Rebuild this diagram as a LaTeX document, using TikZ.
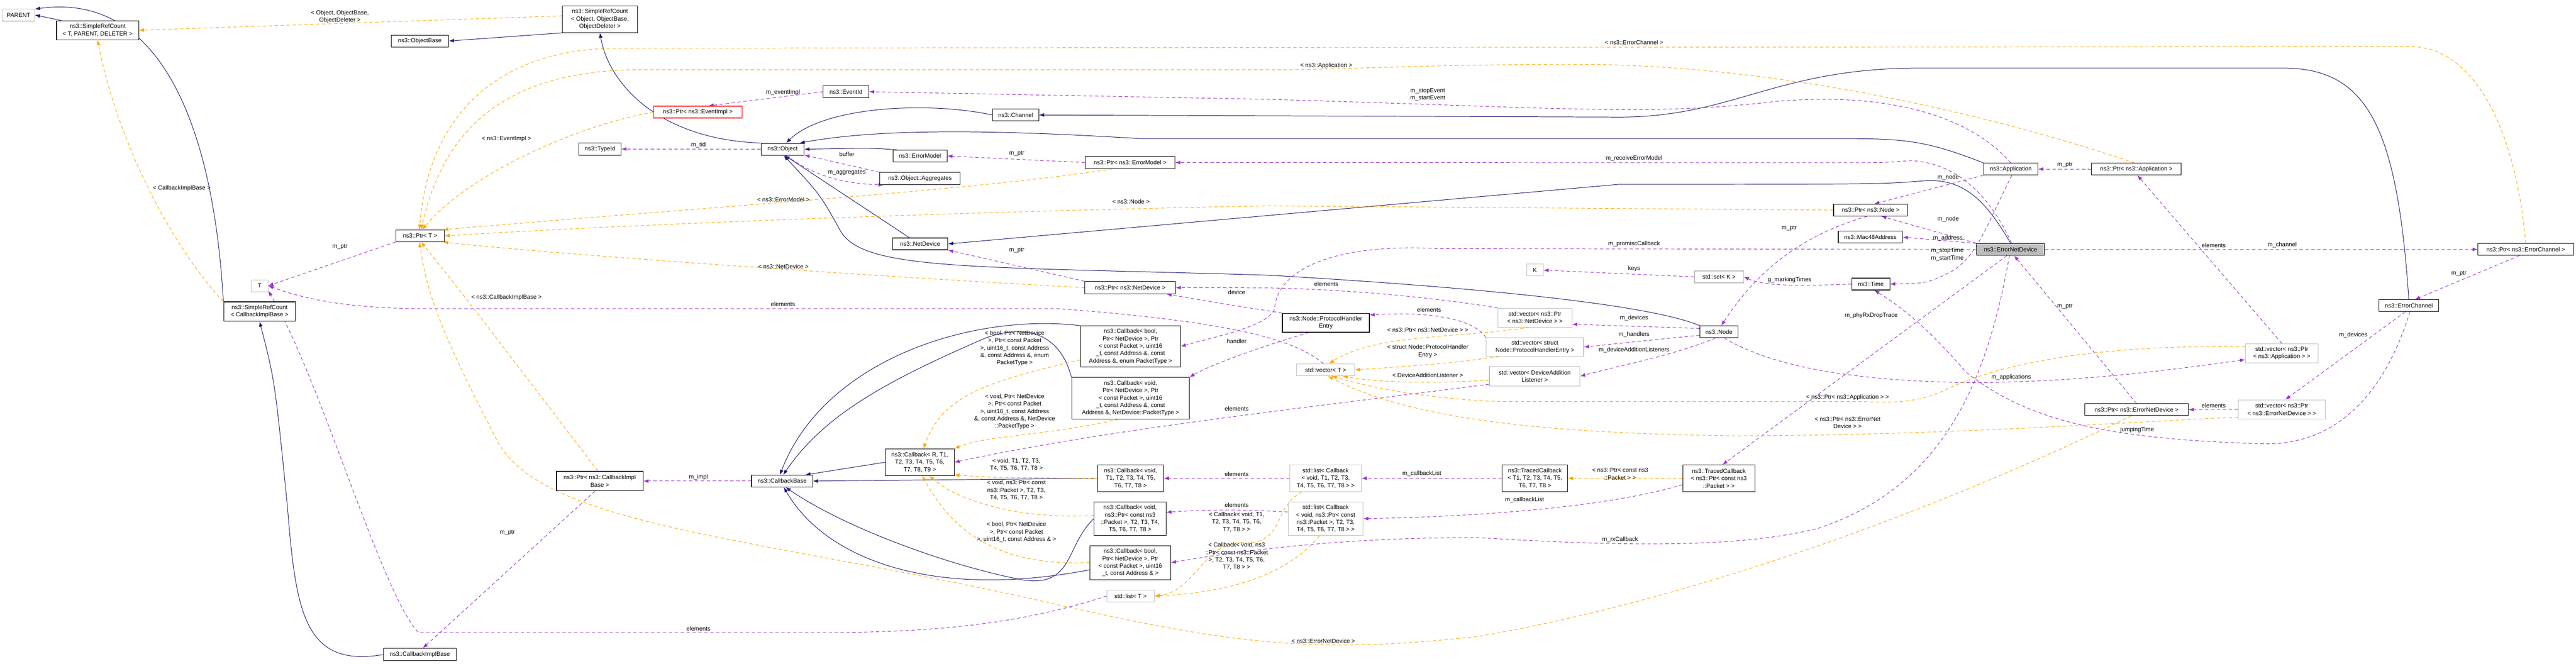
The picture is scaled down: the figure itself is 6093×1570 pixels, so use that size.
\documentclass[tikz,border=0pt]{standalone}
\usepackage{fontspec}
\setmainfont{Liberation Sans}
\usetikzlibrary{arrows.meta}
\pgfdeclarelayer{background}
\pgfsetlayers{background,main}
\definecolor{inhc}{HTML}{191970}
\definecolor{usec}{HTML}{9A32CD}
\definecolor{tplc}{HTML}{FFA500}
\tikzset{
  box/.style={draw=black,line width=0.7pt,fill=white,inner sep=0pt,align=center,font=\fontsize{7}{8.75}\selectfont},
  gbox/.style={box,draw=black!25},
  lbl/.style={inner sep=0pt,align=center,font=\fontsize{7}{8.75}\selectfont},
  tip/.style={-{Latex[length=6pt,width=4.5pt]}},
  inh/.style={tip,draw=inhc,line width=0.6pt},
  use/.style={tip,draw=usec,line width=0.6pt,dash pattern=on 4pt off 3pt},
  tpl/.style={tip,draw=tplc,line width=0.6pt,dash pattern=on 4pt off 3pt},
}
\newcommand\bx[7][]{\node[box,#1,minimum width={(#5-#3)*0.5pt},minimum height={(#6-#4)*0.5pt}] (#2) at ({(#3+#5)/2},{(#4+#6)/2}) {#7};}
\begin{document}
\begin{tikzpicture}[x=0.5pt,y=-0.5pt]
\useasboundingbox (0,0) rectangle (6093,1570);
% nodes
\bx[gbox]{PARENT}{6}{21}{82}{50}{PARENT}
\bx{srcTPD}{134}{49}{328}{94}{ns3::SimpleRefCount\\< T, PARENT, DELETER >}
\bx{srcObj}{1330}{14}{1508}{77}{ns3::SimpleRefCount\\< Object, ObjectBase,\\ObjectDeleter >}
\bx{objBase}{925}{83}{1061}{111}{ns3::ObjectBase}
\bx{typeId}{1369}{338}{1469}{367}{ns3::TypeId}
\bx{ptrT}{936}{544}{1051}{572}{ns3::Ptr< T >}
\bx[gbox]{T}{594}{662}{634}{690}{T}
\bx{srcCIB}{529}{714}{699}{760}{ns3::SimpleRefCount\\< CallbackImplBase >}
\bx{ptrCIB}{1316}{1115}{1521}{1161}{ns3::Ptr< ns3::CallbackImpl\\Base >}
\bx{cib}{907}{1534}{1079}{1563}{ns3::CallbackImplBase}
\bx{eventId}{1947}{203}{2055}{231}{ns3::EventId}
\bx[draw=red]{ptrEventImpl}{1546}{251}{1755}{279}{ns3::Ptr< ns3::EventImpl >}
\bx{channel}{2348}{258}{2457}{286}{ns3::Channel}
\bx{object}{1800}{339}{1902}{367}{ns3::Object}
\bx{errorModel}{2112}{355}{2240}{383}{ns3::ErrorModel}
\bx{ptrErrorModel}{2567}{370}{2779}{399}{ns3::Ptr< ns3::ErrorModel >}
\bx{aggregates}{2081}{408}{2271}{437}{ns3::Object::Aggregates}
\bx{netDevice}{2111}{563}{2242}{591}{ns3::NetDevice}
\bx{ptrNetDevice}{2566}{666}{2780}{695}{ns3::Ptr< ns3::NetDevice >}
\bx{cbBoolPT}{2556}{771}{2792}{868}{ns3::Callback< bool,\\Ptr< NetDevice >, Ptr\\< const Packet >, uint16\\\_t, const Address \&, const\\Address \&, enum PacketType >}
\bx{cbVoidPT}{2535}{893}{2813}{991}{ns3::Callback< void,\\Ptr< NetDevice >, Ptr\\< const Packet >, uint16\\\_t, const Address \&, const\\Address \&, NetDevice::PacketType >}
\bx{cbR}{2094}{1062}{2257}{1125}{ns3::Callback< R, T1,\\T2, T3, T4, T5, T6,\\T7, T8, T9 >}
\bx{cbBase}{1778}{1124}{1922}{1152}{ns3::CallbackBase}
\bx{cbVoidT}{2596}{1100}{2752}{1163}{ns3::Callback< void,\\T1, T2, T3, T4, T5,\\T6, T7, T8 >}
\bx{cbVoidPkt}{2588}{1187}{2758}{1267}{ns3::Callback< void,\\ns3::Ptr< const ns3\\::Packet >, T2, T3, T4,\\T5, T6, T7, T8 >}
\bx{cbBoolAddr}{2578}{1291}{2769}{1371}{ns3::Callback< bool,\\Ptr< NetDevice >, Ptr\\< const Packet >, uint16\\\_t, const Address \& >}
\bx[gbox]{listT}{2618}{1396}{2730}{1424}{std::list< T >}
\bx{ptrNode}{4337}{483}{4512}{511}{ns3::Ptr< ns3::Node >}
\bx{mac}{4348}{547}{4500}{575}{ns3::Mac48Address}
\bx[gbox]{K}{3611}{625}{3650}{653}{K}
\bx[gbox]{setK}{4008}{641}{4124}{669}{std::set< K >}
\bx{time}{4380}{658}{4470}{686}{ns3::Time}
\bx{phe}{3033}{741}{3239}{786}{ns3::Node::ProtocolHandler\\Entry}
\bx[gbox]{vecNetDev}{3543}{729}{3718}{774}{std::vector< ns3::Ptr\\< ns3::NetDevice > >}
\bx{node}{4021}{771}{4111}{799}{ns3::Node}
\bx[gbox]{vecPHE}{3515}{799}{3746}{843}{std::vector< struct\\Node::ProtocolHandlerEntry >}
\bx[gbox]{vecT}{3067}{861}{3204}{889}{std::vector< T >}
\bx[gbox]{vecDAL}{3523}{867}{3737}{913}{std::vector< DeviceAddition\\Listener >}
\bx[gbox]{listCbT}{3051}{1100}{3220}{1163}{std::list< Callback\\< void, T1, T2, T3,\\T4, T5, T6, T7, T8 > >}
\bx{tcT}{3553}{1100}{3708}{1163}{ns3::TracedCallback\\< T1, T2, T3, T4, T5,\\T6, T7, T8 >}
\bx{tcPkt}{3980}{1100}{4151}{1163}{ns3::TracedCallback\\< ns3::Ptr< const ns3\\::Packet > >}
\bx[gbox]{listCbPkt}{3047}{1187}{3224}{1267}{std::list< Callback\\< void, ns3::Ptr< const\\ns3::Packet >, T2, T3,\\T4, T5, T6, T7, T8 > >}
\bx{app}{4692}{386}{4820}{414}{ns3::Application}
\bx{ptrApp}{4947}{386}{5159}{414}{ns3::Ptr< ns3::Application >}
\bx[fill=black!25]{end}{4675}{576}{4836}{604}{ns3::ErrorNetDevice}
\bx{ptrEC}{5861}{576}{6087}{604}{ns3::Ptr< ns3::ErrorChannel >}
\bx{ec}{5627}{709}{5768}{737}{ns3::ErrorChannel}
\bx[gbox]{vecApp}{5311}{813}{5483}{858}{std::vector< ns3::Ptr\\< ns3::Application > >}
\bx{ptrEND}{4931}{955}{5176}{983}{ns3::Ptr< ns3::ErrorNetDevice >}
\bx[gbox]{vecEND}{5294}{946}{5500}{991}{std::vector< ns3::Ptr\\< ns3::ErrorNetDevice > >}
% labels
\node[lbl] (L1) at (804,40) {< Object, ObjectBase,\\ObjectDeleter >};
\node[lbl] (L2) at (430,445) {< CallbackImplBase >};
\node[lbl] (L3) at (1198,329) {< ns3::EventImpl >};
\node[lbl] (L4) at (804,584) {m\_ptr};
\node[lbl] (L5) at (1198,704) {< ns3::CallbackImplBase >};
\node[lbl] (L6) at (1200,1260) {m\_ptr};
\node[lbl] (L7) at (1852,219) {m\_eventImpl};
\node[lbl] (L8) at (1652,343) {m\_tid};
\node[lbl] (L9) at (2003,365) {buffer};
\node[lbl] (L10) at (2003,408) {m\_aggregates};
\node[lbl] (L11) at (2405,363) {m\_ptr};
\node[lbl] (L12) at (1853,472) {< ns3::ErrorModel >};
\node[lbl] (L13) at (2675,477) {< ns3::Node >};
\node[lbl] (L14) at (2405,592) {m\_ptr};
\node[lbl] (L15) at (1853,631) {< ns3::NetDevice >};
\node[lbl] (L16) at (1852,720) {elements};
\node[lbl] (L17) at (2925,692) {device};
\node[lbl] (L18) at (2400,824) {< bool, Ptr< NetDevice\\>, Ptr< const Packet\\>, uint16\_t, const Address\\\&, const Address \&, enum\\PacketType >};
\node[lbl] (L19) at (2925,807) {handler};
\node[lbl] (L20) at (2400,974) {< void, Ptr< NetDevice\\>, Ptr< const Packet\\>, uint16\_t, const Address\\\&, const Address \&, NetDevice\\::PacketType >};
\node[lbl] (L21) at (2925,967) {elements};
\node[lbl] (L22) at (2404,1099) {< void, T1, T2, T3,\\T4, T5, T6, T7, T8 >};
\node[lbl] (L23) at (2404,1160) {< void, ns3::Ptr< const\\ns3::Packet >, T2, T3,\\T4, T5, T6, T7, T8 >};
\node[lbl] (L24) at (2404,1259) {< bool, Ptr< NetDevice\\>, Ptr< const Packet\\>, uint16\_t, const Address \& >};
\node[lbl] (L25) at (1652,1129) {m\_impl};
\node[lbl] (L26) at (2925,1121) {elements};
\node[lbl] (L27) at (2925,1195) {elements};
\node[lbl] (L28) at (1652,1487) {elements};
\node[lbl] (L29) at (2925,1235) {< Callback< void, T1,\\T2, T3, T4, T5, T6,\\T7, T8 > >};
\node[lbl] (L30) at (2925,1316) {< Callback< void, ns3\\::Ptr< const ns3::Packet\\>, T2, T3, T4, T5, T6,\\T7, T8 > >};
\node[lbl] (L31) at (3865,100) {< ns3::ErrorChannel >};
\node[lbl] (L32) at (3137,155) {< ns3::Application >};
\node[lbl] (L33) at (3377,224) {m\_stopEvent\\m\_startEvent};
\node[lbl] (L34) at (3865,375) {m\_receiveErrorModel};
\node[lbl] (L35) at (4232,540) {m\_ptr};
\node[lbl] (L36) at (3865,577) {m\_promiscCallback};
\node[lbl] (L37) at (3865,635) {keys};
\node[lbl] (L38) at (4233,662) {g\_markingTimes};
\node[lbl] (L39) at (3137,672) {elements};
\node[lbl] (L40) at (3380,733) {elements};
\node[lbl] (L41) at (3865,753) {m\_devices};
\node[lbl] (L42) at (4426,747) {m\_phyRxDropTrace};
\node[lbl] (L43) at (3377,780) {< ns3::Ptr< ns3::NetDevice > >};
\node[lbl] (L44) at (3865,791) {m\_handlers};
\node[lbl] (L45) at (3377,831) {< struct Node::ProtocolHandler\\Entry >};
\node[lbl] (L46) at (3865,828) {m\_deviceAdditionListeners};
\node[lbl] (L47) at (3377,888) {< DeviceAdditionListener >};
\node[lbl] (L48) at (4370,940) {< ns3::Ptr< ns3::Application > >};
\node[lbl] (L49) at (4370,1000) {< ns3::Ptr< ns3::ErrorNet\\Device > >};
\node[lbl] (L50) at (3832,1121) {< ns3::Ptr< const ns3\\::Packet > >};
\node[lbl] (L51) at (3363,1121) {m\_callbackList};
\node[lbl] (L52) at (3606,1183) {m\_callbackList};
\node[lbl] (L53) at (3832,1277) {m\_rxCallback};
\node[lbl] (L54) at (3130,1517) {< ns3::ErrorNetDevice >};
\node[lbl] (L55) at (4608,420) {m\_node};
\node[lbl] (L56) at (4608,519) {m\_node};
\node[lbl] (L57) at (4607,564) {m\_address};
\node[lbl] (L58) at (4606,602) {m\_stopTime\\m\_startTime};
\node[lbl] (L59) at (4884,390) {m\_ptr};
\node[lbl] (L60) at (4884,725) {m\_ptr};
\node[lbl] (L61) at (5236,581) {elements};
\node[lbl] (L62) at (5398,580) {m\_channel};
\node[lbl] (L63) at (5816,647) {m\_ptr};
\node[lbl] (L64) at (5566,793) {m\_devices};
\node[lbl] (L65) at (4757,893) {m\_applications};
\node[lbl] (L66) at (5236,959) {elements};
\node[lbl] (L67) at (5055,1017) {jumpingTime};
\begin{pgfonlayer}{background}
% inheritance
\draw[inh] (srcTPD.165) -- (PARENT.east);
\draw[inh] (srcCIB.north west) .. controls (505,300) and (380,-20) .. (PARENT.20);
\draw[inh] (srcObj.200) -- (objBase.east);
\draw[inh] (object.north west) .. controls (1560,330) and (1440,200) .. (srcObj.south);
\draw[inh] (channel.west) .. controls (2200,240) and (1950,250) .. (object.60);
\draw[inh] (errorModel.165) .. controls (2060,350) .. (object.east);
\draw[inh] (netDevice.150) -- (object.-70);
\draw[inh] (app.north west) .. controls (4550,330) and (4500,328) .. (4350,328) -- (2700,328) .. controls (2400,310) and (2100,300) .. (object.20);
\draw[inh] (node.north west) .. controls (3900,720) and (3500,680) .. (3000,651) .. controls (2300,630) and (2050,640) .. (1990,550) .. controls (1940,460) .. (object.-80);
\draw[inh] (end.north) .. controls (4700,480) and (4650,425) .. (4560,427) .. controls (4450,436) .. (3830,436) -- (netDevice.east);
\draw[inh] (ec.north) .. controls (5670,300) and (5600,161) .. (5400,161) -- (4540,161) .. controls (4200,161) and (4100,277) .. (3830,277) -- (channel.east);
\draw[inh] (cib.west) .. controls (720,1580) and (700,1450) .. (680,1200) .. controls (650,900) .. (srcCIB.south);
\draw[inh] (cbR.west) -- (cbBase.15);
\draw[inh] (cbVoidT.west) -- (cbBase.east);
\draw[inh] (cbVoidPkt.west) .. controls (2520,1290) and (2540,1390) .. (2420,1372) .. controls (2250,1340) and (2000,1250) .. (cbBase.-60);
\draw[inh] (cbBoolAddr.-170) .. controls (2200,1420) and (1950,1320) .. (cbBase.-75);
\draw[inh] (cbBoolPT.north west) .. controls (2300,740) and (1950,850) .. (cbBase.110);
\draw[inh] (cbVoidPT.north west) .. controls (2510,800) and (2440,760) .. (2330,800) .. controls (2100,900) and (1950,980) .. (cbBase.80);
% usage
\draw[use] (ptrT.south west) -- (T.east);
\draw[use] (ptrCIB.-115) -- (cib.65);
\draw[use] (cbBase.west) -- (ptrCIB.east);
\draw[use] (listT.west) .. controls (2400,1480) and (2200,1497) .. (1900,1497) -- (990,1497) .. controls (900,1400) and (760,900) .. (T.-30);
\draw[use] (vecT.110) .. controls (3060,800) and (2900,760) .. (2500,730) -- (1000,730) .. controls (800,730) and (700,700) .. (T.east);
\draw[use] (setK.west) -- (K.east);
\draw[use] (time.west) .. controls (4230,678) and (4170,675) .. (setK.east);
\draw[use] (ptrNode.-120) .. controls (4250,560) and (4150,650) .. (node.70);
\draw[use] (app.south west) -- (ptrNode.60);
\draw[use] (end.north west) -- (ptrNode.-30);
\draw[use] (end.170) -- (mac.east);
\draw[use] (app.-80) .. controls (4700,530) and (4680,600) .. (4620,640) .. controls (4560,670) .. (time.east);
\draw[use] (app.north) .. controls (4700,320) and (4550,210) .. (4200,240) .. controls (3900,275) and (3700,255) .. (3000,235) -- (eventId.east);
\draw[use] (eventId.west) -- (ptrEventImpl.30);
\draw[use] (object.west) -- (typeId.east);
\draw[use] (object.-60) .. controls (1930,420) and (2000,434) .. (aggregates.190);
\draw[use] (aggregates.north west) -- (object.-15);
\draw[use] (ptrErrorModel.west) -- (errorModel.east);
\draw[use] (end.80) .. controls (4700,450) and (4620,385) .. (4520,380) .. controls (4450,385) .. (4350,385) -- (ptrErrorModel.east);
\draw[use] (ptrNetDevice.north west) -- (netDevice.south east);
\draw[use] (phe.north west) .. controls (2900,720) .. (ptrNetDevice.-10);
\draw[use] (phe.-150) .. controls (2950,830) and (2850,870) .. (cbVoidPT.north east);
\draw[use] (vecNetDev.north west) .. controls (3400,705) and (3200,685) .. (3000,681) -- (ptrNetDevice.east);
\draw[use] (vecPHE.north west) .. controls (3490,760) and (3400,735) .. (phe.10);
\draw[use] (node.170) -- (vecNetDev.-10);
\draw[use] (node.-170) .. controls (3900,805) .. (vecPHE.east);
\draw[use] (node.-120) .. controls (3960,840) and (3850,860) .. (vecDAL.east);
\draw[use] (node.-50) .. controls (4180,860) and (4350,900) .. (4650,905) .. controls (4900,905) and (5100,880) .. (vecApp.-170);
\draw[use] (vecDAL.-170) .. controls (3000,975) and (2600,1020) .. (cbR.east);
\draw[use] (vecApp.north) -- (ptrApp.-80);
\draw[use] (ptrApp.west) -- (app.east);
\draw[use] (end.east) -- (ptrEC.west);
\draw[use] (ptrEC.-135) -- (ec.45);
\draw[use] (ec.-120) -- (vecEND.70);
\draw[use] (vecEND.west) -- (ptrEND.east);
\draw[use] (ptrEND.north) -- (end.-60);
\draw[use] (ec.-80) .. controls (5650,900) and (5550,1050) .. (5360,1050) .. controls (5000,1040) and (4800,1000) .. (4650,880) .. controls (4580,800) and (4520,740) .. (time.-60);
\draw[use] (end.-120) -- (tcPkt.75);
\draw[use] (end.west) -- (3400,588) .. controls (3150,575) and (3020,640) .. (3015,730) .. controls (3000,770) and (2900,790) .. (cbBoolPT.east);
\draw[use] (end.-100) .. controls (4700,900) and (4600,1150) .. (4300,1250) .. controls (4100,1300) and (3800,1290) .. (3500,1272) .. controls (3200,1270) and (2950,1300) .. (cbBoolAddr.east);
\draw[use] (tcT.west) -- (listCbT.east);
\draw[use] (tcPkt.-170) .. controls (3800,1200) and (3500,1222) .. (listCbPkt.east);
\draw[use] (listCbT.west) -- (cbVoidT.east);
\draw[use] (listCbPkt.170) .. controls (2950,1205) and (2850,1205) .. (cbVoidPkt.10);
% template
\draw[tpl] (srcObj.175) -- (srcTPD.east);
\draw[tpl] (srcCIB.north west) .. controls (420,600) and (280,350) .. (srcTPD.south);
\draw[tpl] (ptrEventImpl.west) .. controls (1350,300) and (1100,420) .. (ptrT.70);
\draw[tpl] (ptrEC.north) .. controls (5950,300) and (5850,110) .. (5700,110) -- (1450,114) .. controls (1150,120) and (1010,300) .. (ptrT.95);
\draw[tpl] (ptrApp.110) .. controls (4800,300) and (4300,165) .. (3800,153) .. controls (3400,150) and (3200,165) .. (3000,165) -- (1500,165) .. controls (1200,170) and (1050,300) .. (ptrT.80);
\draw[tpl] (ptrErrorModel.-160) .. controls (2300,450) and (1800,480) .. (ptrT.15);
\draw[tpl] (ptrNode.west) -- (3000,487) .. controls (2300,500) and (1500,530) .. (ptrT.east);
\draw[tpl] (ptrNetDevice.west) .. controls (2000,650) and (1300,600) .. (ptrT.-15);
\draw[tpl] (ptrCIB.100) .. controls (1250,900) and (1100,700) .. (ptrT.-80);
\draw[tpl] (ptrEND.-130) .. controls (4700,1150) and (4100,1400) .. (3500,1505) .. controls (3100,1550) and (2900,1520) .. (2500,1430) .. controls (1800,1270) and (1300,1250) .. (1180,1050) .. controls (1050,800) and (1010,700) .. (ptrT.-95);
\draw[tpl] (cbBoolPT.-165) .. controls (2350,900) and (2230,930) .. (cbR.75);
\draw[tpl] (cbVoidPT.-120) .. controls (2480,1030) and (2330,1030) .. (cbR.north east);
\draw[tpl] (cbVoidT.west) .. controls (2350,1130) .. (cbR.-20);
\draw[tpl] (cbVoidPkt.175) .. controls (2400,1230) and (2260,1180) .. (cbR.-55);
\draw[tpl] (cbBoolAddr.west) .. controls (2350,1340) and (2250,1250) .. (cbR.-80);
\draw[tpl] (listCbT.-150) .. controls (3010,1200) and (3040,1280) .. (2950,1285) .. controls (2850,1270) and (2830,1400) .. (listT.east);
\draw[tpl] (listCbPkt.-110) .. controls (3060,1340) and (2950,1400) .. (listT.east);
\draw[tpl] (tcPkt.west) -- (tcT.east);
\draw[tpl] (vecNetDev.-120) .. controls (3450,800) and (3250,790) .. (vecT.60);
\draw[tpl] (vecPHE.-165) .. controls (3420,860) .. (vecT.east);
\draw[tpl] (vecDAL.-175) .. controls (3380,908) and (3260,905) .. (vecT.-20);
\draw[tpl] (vecApp.170) .. controls (5000,815) and (4750,850) .. (4600,923) .. controls (4520,960) and (4450,950) .. (4400,950) -- (3550,950) .. controls (3400,945) and (3250,920) .. (vecT.-45);
\draw[tpl] (vecEND.-170) .. controls (5000,1000) and (4600,1030) .. (4100,1031) .. controls (3700,1025) and (3350,1000) .. (vecT.-70);
\end{pgfonlayer}
\end{tikzpicture}
\end{document}
